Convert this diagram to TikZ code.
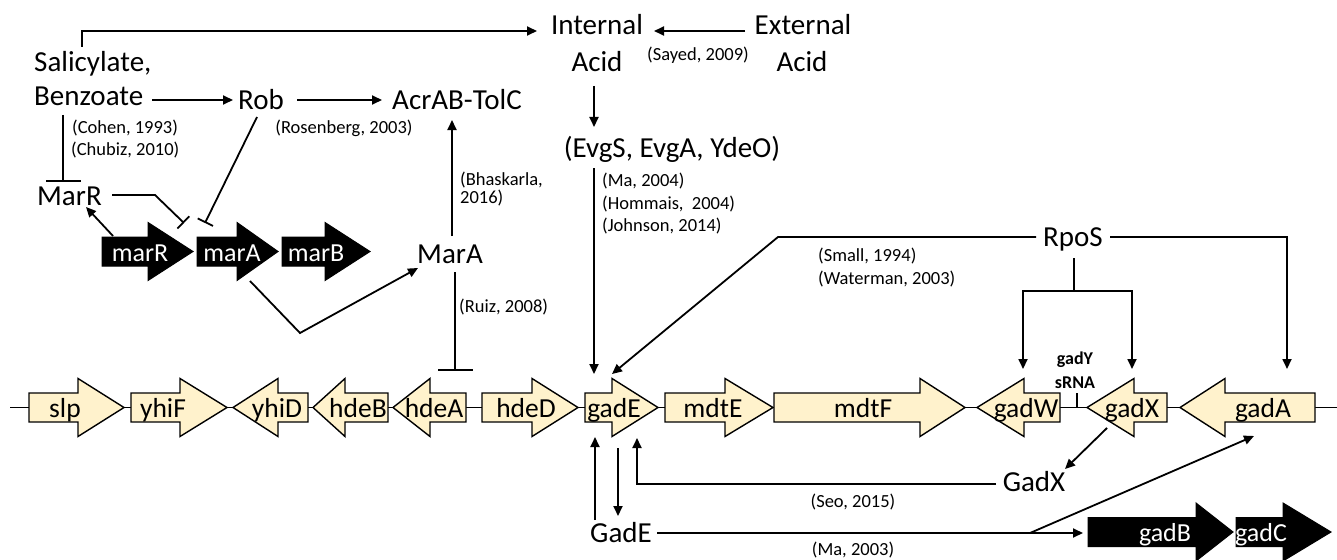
\documentclass[tikz,border=0pt]{standalone}
\usepackage{fontspec}
\setmainfont{Carlito}
\usetikzlibrary{arrows.meta}
\definecolor{genefill}{HTML}{FFF2CC}
\newcommand{\myGene}[5]{% style, body end, head base, tip, y centre
  \draw[#1] (#2,#5-14.5) -- (#3,#5-14.5) -- (#3,#5-29) -- (#4,#5) -- (#3,#5+29) -- (#3,#5+14.5) -- (#2,#5+14.5) -- cycle;}
\tikzset{
  big/.style={font=\fontsize{29}{31}\selectfont, inner sep=0pt},
  cite/.style={font=\fontsize{18.5}{20}\selectfont, inner sep=0pt},
  genelab/.style={font=\fontsize{27.5}{29}\selectfont, inner sep=0pt, anchor=base},
  blacklab/.style={font=\fontsize{26}{28}\selectfont, inner sep=0pt, anchor=base, text=white},
  srna/.style={font=\bfseries\fontsize{18}{20}\selectfont, inner sep=0pt, anchor=base},
  gene/.style={draw=black, fill=genefill, line width=1.4pt, line join=miter},
  blackgene/.style={draw=black, fill=black, line width=1pt},
  act/.style={line width=1.8pt, -{Triangle[length=10pt,width=9pt]}},
  inh/.style={line width=1.8pt, -{Bar[width=35pt,line width=1.8pt]}},
  inhs/.style={line width=1.8pt, -{Bar[width=17pt,line width=1.8pt]}},
  conn/.style={line width=1.8pt},
}
\begin{document}
\begin{tikzpicture}[x=1pt,y=-1pt]
\path[use as bounding box] (0,0) rectangle (1337,559);

% ---------- text nodes ----------
\node[big, anchor=base] (internal) at (597,35) {Internal};
\node[big, anchor=base] (intacid) at (597,72) {Acid};
\node[big, anchor=base] (external) at (803,35) {External};
\node[big, anchor=base] (extacid) at (802,72) {Acid};
\node[cite, anchor=base] (sayed) at (698,61) {(Sayed, 2009)};
\node[big, anchor=base west] (salic) at (34,72) {Salicylate,};
\node[big, anchor=base west] (benz) at (34,106) {Benzoate};
\node[big, anchor=base] (rob) at (261,110) {Rob};
\node[big, anchor=base] (acrab) at (457,110) {AcrAB-TolC};
\node[cite, anchor=base] (rosen) at (344,133) {(Rosenberg, 2003)};
\node[cite, anchor=base west] (cohen) at (72,133) {(Cohen, 1993)};
\node[cite, anchor=base west] (chubiz) at (71,155) {(Chubiz, 2010)};
\node[big, anchor=base west] (marRp) at (37,205) {MarR};
\node[big, anchor=base] (marAp) at (450,263) {MarA};
\node[cite, anchor=base west] (bhask) at (460,185) {(Bhaskarla,};
\node[cite, anchor=base west] (bhasky) at (460,203) {2016)};
\node[cite, anchor=base west] (ruiz) at (459,312) {(Ruiz, 2008)};
\node[big, anchor=base] (evgs) at (672,157) {(EvgS, EvgA, YdeO)};
\node[cite, anchor=base west] (mafour) at (602,186) {(Ma, 2004)};
\node[cite, anchor=base west] (hommais) at (602,209) {(Hommais,\ \ 2004)};
\node[cite, anchor=base west] (johnson) at (602,231) {(Johnson, 2014)};
\node[big, anchor=base] (rpos) at (1073,246) {RpoS};
\node[cite, anchor=base west] (small) at (818,261) {(Small, 1994)};
\node[cite, anchor=base west] (waterman) at (818,284) {(Waterman, 2003)};
\node[srna] (gady) at (1075,364) {gadY};
\node[srna] (srna) at (1075,388) {sRNA};
\node[big, anchor=base] (gadxp) at (1034,491) {GadX};
\node[cite, anchor=base] (seo) at (853,507) {(Seo, 2015)};
\node[big, anchor=base] (gadep) at (621,542) {GadE};
\node[cite, anchor=base] (mathree) at (853,555) {(Ma, 2003)};

% ---------- chromosome ----------
\coordinate (bbL) at (10,407.5);
\coordinate (bbR) at (1337,407.5);
\draw[conn] (bbL) -- (bbR);
\myGene{gene}{29}{78}{124}{407.5}
\myGene{gene}{131}{180}{227}{407.5}
\myGene{gene}{308}{278}{233}{407.5}
\myGene{gene}{388}{345}{313}{407.5}
\myGene{gene}{466}{430}{393}{407.5}
\myGene{gene}{482}{532}{578}{407.5}
\myGene{gene}{585}{612}{658}{407.5}
\myGene{gene}{665}{725}{773}{407.5}
\myGene{gene}{774}{920}{965}{407.5}
\myGene{gene}{1060}{1024}{977}{407.5}
\myGene{gene}{1167}{1134}{1087}{407.5}
\myGene{gene}{1315}{1225}{1180}{407.5}
\coordinate (tickTop) at (1077,393);
\coordinate (tickBot) at (1077,407.5);
\draw[conn] (tickTop) -- (tickBot);
\node[genelab] (gslp) at (65,417) {slp};
\node[genelab] (gyhiF) at (163,417) {yhiF};
\node[genelab] (gyhiD) at (277,417) {yhiD};
\node[genelab] (ghdeB) at (358,417) {hdeB};
\node[genelab] (ghdeA) at (434,417) {hdeA};
\node[genelab] (ghdeD) at (526,417) {hdeD};
\node[genelab] (ggadE) at (614,417) {gadE};
\node[genelab] (gmdtE) at (713,417) {mdtE};
\node[genelab] (gmdtF) at (863,417) {mdtF};
\node[genelab] (ggadW) at (1026,417) {gadW};
\node[genelab] (ggadX) at (1132,417) {gadX};
\node[genelab] (ggadA) at (1263,417) {gadA};

% ---------- black genes ----------
\myGene{blackgene}{102}{148}{193}{251.5}
\myGene{blackgene}{197}{237}{278}{251.5}
\myGene{blackgene}{282}{325}{370}{251.5}
\node[blacklab] (gmarR) at (140,261) {marR};
\node[blacklab] (gmarA) at (232,261) {marA};
\node[blacklab] (gmarB) at (316,261) {marB};
\myGene{blackgene}{1088}{1196}{1233}{532}
\myGene{blackgene}{1236}{1283}{1331}{532}
\node[blacklab] (ggadB) at (1165,541) {gadB};
\node[blacklab] (ggadC) at (1261,541) {gadC};

% ---------- connector coordinates ----------
\coordinate (salTop) at (82,47);
\coordinate (intIn) at (537,31);
\coordinate (extOut) at (745,31);
\coordinate (intInR) at (654,31);
\coordinate (acidBot) at (594,86);
\coordinate (evgsTop) at (594,127);
\coordinate (benzR) at (152,100);
\coordinate (robL) at (233,100);
\coordinate (robR) at (297,100);
\coordinate (acrL) at (382,100);
\coordinate (benzBot) at (63,115);
\coordinate (marRTop) at (63,182);
\coordinate (marRR) at (112,195);
\coordinate (marRbend) at (155,195);
\coordinate (marAinhA) at (184,223);
\coordinate (robBot) at (257,117);
\coordinate (marAinhB) at (205,223);
\coordinate (marRgeneTop) at (113,236);
\coordinate (marRpIn) at (86,207);
\coordinate (marAgeneBot) at (250,281);
\coordinate (bendMarA) at (300,333);
\coordinate (marApIn) at (418,268);
\coordinate (marApTop) at (452,236);
\coordinate (acrBot) at (452,120);
\coordinate (marApBot) at (455,272);
\coordinate (hdeAinh) at (455,371);
\coordinate (evgsBot) at (594,168);
\coordinate (gadEinA) at (594,374);
\coordinate (rposL) at (1036,237);
\coordinate (rposBend) at (778,237);
\coordinate (gadEinB) at (612,374);
\coordinate (rposBot) at (1074,258);
\coordinate (rposFork) at (1074,291);
\coordinate (gadWin) at (1023,369);
\coordinate (gadXin) at (1132,369);
\coordinate (rposR) at (1110,237);
\coordinate (gadAin) at (1287,369);
\coordinate (gadEpUpS) at (595,520);
\coordinate (gadEpUpE) at (595,437);
\coordinate (gadEdownS) at (618,448);
\coordinate (gadEdownE) at (618,516);
\coordinate (gadxL) at (996,484);
\coordinate (gadXupE) at (637,438);
\coordinate (gadXgeneBot) at (1107,428);
\coordinate (gadxpIn) at (1065,469);
\coordinate (gadepR) at (657,533);
\coordinate (gadBin) at (1083,533);
\coordinate (branch) at (1030,533);
\coordinate (gadAinB) at (1254,436);

% ---------- connectors ----------
\draw[act] (salTop) |- (intIn);
\draw[act] (extOut) -- (intInR);
\draw[act] (acidBot) -- (evgsTop);
\draw[act] (benzR) -- (robL);
\draw[act] (robR) -- (acrL);
\draw[inh] (benzBot) -- (marRTop);
\draw[inhs] (marRR) -- (marRbend) -- (marAinhA);
\draw[inhs] (robBot) -- (marAinhB);
\draw[act] (marRgeneTop) -- (marRpIn);
\draw[act] (marAgeneBot) -- (bendMarA) -- (marApIn);
\draw[act] (marApTop) -- (acrBot);
\draw[inh] (marApBot) -- (hdeAinh);
\draw[act] (evgsBot) -- (gadEinA);
\draw[act] (rposL) -- (rposBend) -- (gadEinB);
\draw[conn] (rposBot) -- (rposFork);
\draw[act] (rposFork) -| (gadWin);
\draw[act] (rposFork) -| (gadXin);
\draw[act] (rposR) -| (gadAin);
\draw[act] (gadEpUpS) -- (gadEpUpE);
\draw[act] (gadEdownS) -- (gadEdownE);
\draw[act] (gadxL) -| (gadXupE);
\draw[act] (gadXgeneBot) -- (gadxpIn);
\draw[act] (gadepR) -- (gadBin);
\draw[act] (branch) -- (gadAinB);
\end{tikzpicture}
\end{document}
